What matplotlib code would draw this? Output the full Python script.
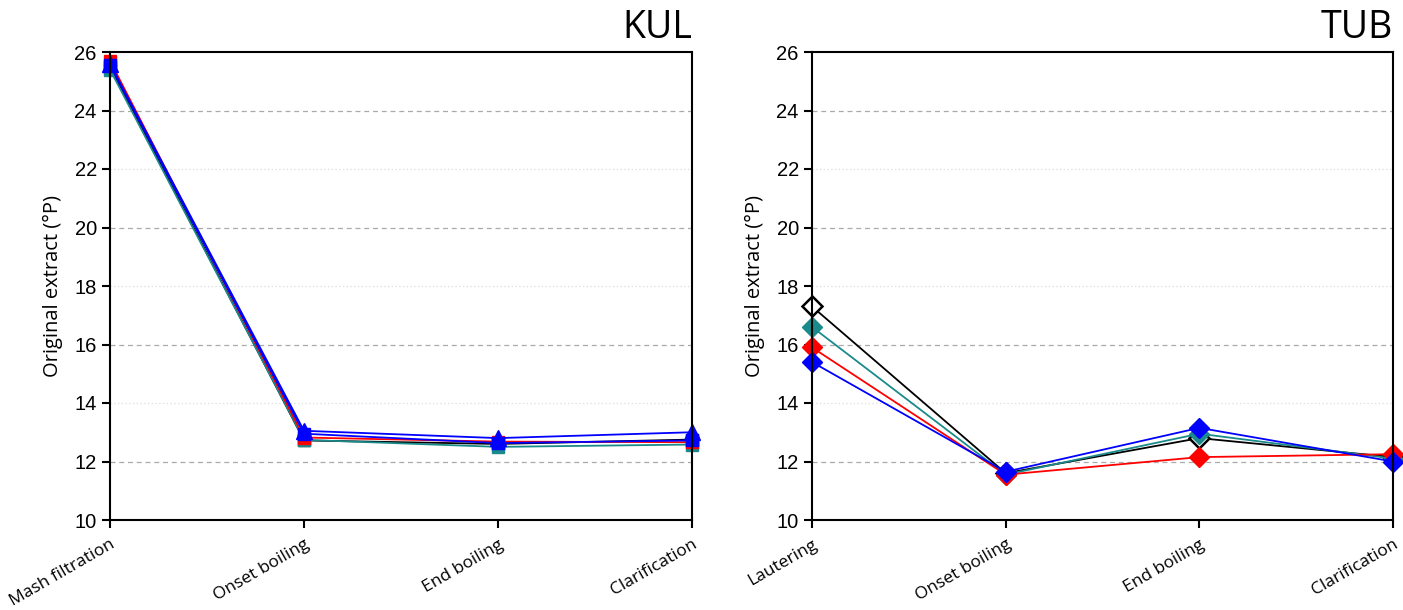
import matplotlib
matplotlib.use("Agg")
import matplotlib.pyplot as plt

stages_kul = ["Mash filtration", "Onset boiling", "End boiling", "Clarification"]
stages_tub = ["Lautering", "Onset boiling", "End boiling", "Clarification"]

# KUL series
kul_black = [25.5, 12.72, 12.6, 12.75]
kul_teal = [25.4, 12.74, 12.5, 12.58]
kul_red = [25.7, 12.82, 12.68, 12.66]
kul_blue_sq = [25.55, 12.95, 12.63, 12.72]
kul_blue_tri = [25.6, 13.05, 12.8, 13.0]

# TUB series
tub_black = [17.3, 11.6, 12.8, 12.15]
tub_teal = [16.6, 11.55, 12.95, 12.1]
tub_red = [15.9, 11.55, 12.15, 12.25]
tub_blue = [15.4, 11.65, 13.15, 12.0]

yticks = [10, 12, 14, 16, 18, 20, 22, 24, 26]

TEAL = "#1a8a8a"

fig = plt.figure(figsize=(14.03, 6.10), dpi=100)
ax1 = fig.add_axes([110/1403, 1-520/610, 582/1403, 468/610])
ax2 = fig.add_axes([812/1403, 1-520/610, 581/1403, 468/610])

def style(ax, labels, title):
    ax.set_ylim(10, 26)
    ax.set_xlim(0, 3)
    ax.set_yticks(yticks)
    ax.set_yticklabels([str(v) for v in yticks], fontsize=14.5, family="Liberation Sans")
    ax.set_xticks(range(4))
    ax.set_xticklabels(labels, rotation=30, ha="right", rotation_mode="anchor",
                       fontsize=12.5, family="Open Sans")
    ax.tick_params(axis="both", direction="out", length=6, width=1.5)
    ax.tick_params(axis="x", pad=6)
    for s in ax.spines.values():
        s.set_linewidth(1.5)
    for v in yticks[1:-1]:
        if v % 4 == 0:
            ax.axhline(v, color="#aaaaaa", lw=0.9, ls=(0, (4, 3)), zorder=0)
        else:
            ax.axhline(v, color="#dddddd", lw=0.9, ls=(0, (1, 2)), zorder=0)
    ax.set_ylabel("Original extract (°P)", fontsize=14.5, family="Open Sans", labelpad=8)
    ax.text(1.0, 1.01, title, transform=ax.transAxes, ha="right", va="bottom",
            fontsize=27, family="Open Sans")

x = range(4)
kw = dict(lw=1.3, markersize=9, clip_on=False)
ax1.plot(x, kul_black, color="black", marker="s", **kw)
ax1.plot(x, kul_teal, color=TEAL, marker="s", **kw)
ax1.plot(x, kul_red, color="red", marker="s", **kw)
ax1.plot(x, kul_blue_sq, color="blue", marker="s", **kw)
ax1.plot(x, kul_blue_tri, color="blue", marker="^", lw=1.3, markersize=11, clip_on=False)
style(ax1, stages_kul, "KUL")

kw2 = dict(lw=1.3, markersize=10, clip_on=False)
ax2.plot(x, tub_black, color="black", marker="D", markerfacecolor="white",
         markeredgewidth=1.8, **kw2)
ax2.plot(x, tub_teal, color=TEAL, marker="D", **kw2)
ax2.plot(x, tub_red, color="red", marker="D", **kw2)
ax2.plot(x, tub_blue, color="blue", marker="D", **kw2)
style(ax2, stages_tub, "TUB")

fig.savefig("out.png", dpi=100)
